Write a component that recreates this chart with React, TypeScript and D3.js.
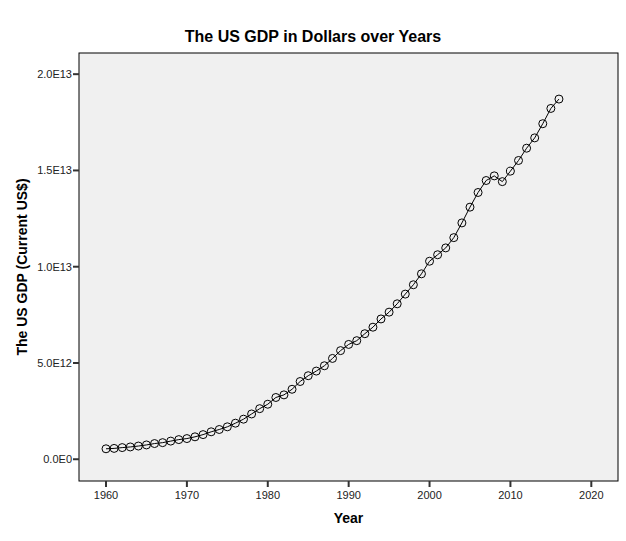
import React from "react";
import * as d3 from "d3";

// US GDP, current US$
const years = [
  1960, 1961, 1962, 1963, 1964, 1965, 1966, 1967, 1968, 1969,
  1970, 1971, 1972, 1973, 1974, 1975, 1976, 1977, 1978, 1979,
  1980, 1981, 1982, 1983, 1984, 1985, 1986, 1987, 1988, 1989,
  1990, 1991, 1992, 1993, 1994, 1995, 1996, 1997, 1998, 1999,
  2000, 2001, 2002, 2003, 2004, 2005, 2006, 2007, 2008, 2009,
  2010, 2011, 2012, 2013, 2014, 2015, 2016,
];
const gdp = [
  5.433e11, 5.633e11, 6.051e11, 6.386e11, 6.858e11, 7.437e11, 8.15e11, 8.617e11, 9.425e11, 1.0199e12,
  1.0734e12, 1.1649e12, 1.2791e12, 1.4254e12, 1.5452e12, 1.6843e12, 1.8731e12, 2.0813e12, 2.3516e12, 2.6273e12,
  2.8574e12, 3.2073e12, 3.3439e12, 3.6341e12, 4.0373e12, 4.3389e12, 4.5796e12, 4.8553e12, 5.2364e12, 5.6417e12,
  5.9631e12, 6.1584e12, 6.5203e12, 6.8588e12, 7.2872e12, 7.6397e12, 8.0732e12, 8.5774e12, 9.0628e12, 9.6305e12,
  1.02848e13, 1.06218e13, 1.09775e13, 1.15107e13, 1.22749e13, 1.30937e13, 1.38559e13, 1.44776e13, 1.47186e13, 1.44187e13,
  1.49644e13, 1.55179e13, 1.61553e13, 1.66915e13, 1.74276e13, 1.82199e13, 1.87072e13,
];
const xTicks = [1960, 1970, 1980, 1990, 2000, 2010, 2020];
const yTicks = [0, 5e12, 1e13, 1.5e13, 2e13];
const yTickLabels = ["0.0E0", "5.0E12", "1.0E13", "1.5E13", "2.0E13"];

const W = 626;
const H = 541;
const plot = { left: 79, right: 618, top: 53, bottom: 481 };
const font = "Arial, 'Liberation Sans', sans-serif";

export default function App() {
  const x = d3.scaleLinear().domain([1956.66, 2023.3]).range([plot.left, plot.right]);
  const y = d3.scaleLinear().domain([-1.13e12, 2.11e13]).range([plot.bottom, plot.top]);

  const points = years.map((yr, i) => [x(yr), y(gdp[i])] as [number, number]);
  const path = d3.line()(points) || "";

  return (
    <div style={{ position: "absolute", left: 0, top: 0 }}>
      <svg width={W} height={H} style={{ display: "block", background: "#fff" }}>
        <rect
          x={plot.left}
          y={plot.top}
          width={plot.right - plot.left}
          height={plot.bottom - plot.top}
          fill="#f0f0f0"
          stroke="#000"
          strokeWidth={1}
        />
        <path d={path} fill="none" stroke="#000" strokeWidth={1} />
        {points.map(([cx, cy], i) => (
          <circle key={i} cx={cx} cy={cy} r={4} fill="none" stroke="#000" strokeWidth={1} />
        ))}

        {yTicks.map((t, i) => (
          <g key={t}>
            <line x1={plot.left - 6} x2={plot.left} y1={y(t)} y2={y(t)} stroke="#333" strokeWidth={2} />
            <text x={plot.left - 7} y={y(t) + 4} textAnchor="end" fontFamily={font} fontSize={11} fill="#222">
              {yTickLabels[i]}
            </text>
          </g>
        ))}

        {xTicks.map((t) => (
          <g key={t}>
            <line x1={x(t)} x2={x(t)} y1={plot.bottom} y2={plot.bottom + 6} stroke="#333" strokeWidth={2} />
            <text x={x(t)} y={plot.bottom + 18} textAnchor="middle" fontFamily={font} fontSize={11} fill="#222">
              {t}
            </text>
          </g>
        ))}

        <text x={W / 2} y={42} textAnchor="middle" fontFamily={font} fontSize={16} fontWeight="bold" fill="#000">
          The US GDP in Dollars over Years
        </text>
        <text
          x={(plot.left + plot.right) / 2}
          y={523}
          textAnchor="middle"
          fontFamily={font}
          fontSize={14}
          fontWeight="bold"
          fill="#000"
        >
          Year
        </text>
        <text
          transform={`translate(27,${(plot.top + plot.bottom) / 2}) rotate(-90)`}
          textAnchor="middle"
          fontFamily={font}
          fontSize={14}
          fontWeight="bold"
          fill="#000"
        >
          The US GDP (Current US$)
        </text>
      </svg>
    </div>
  );
}
